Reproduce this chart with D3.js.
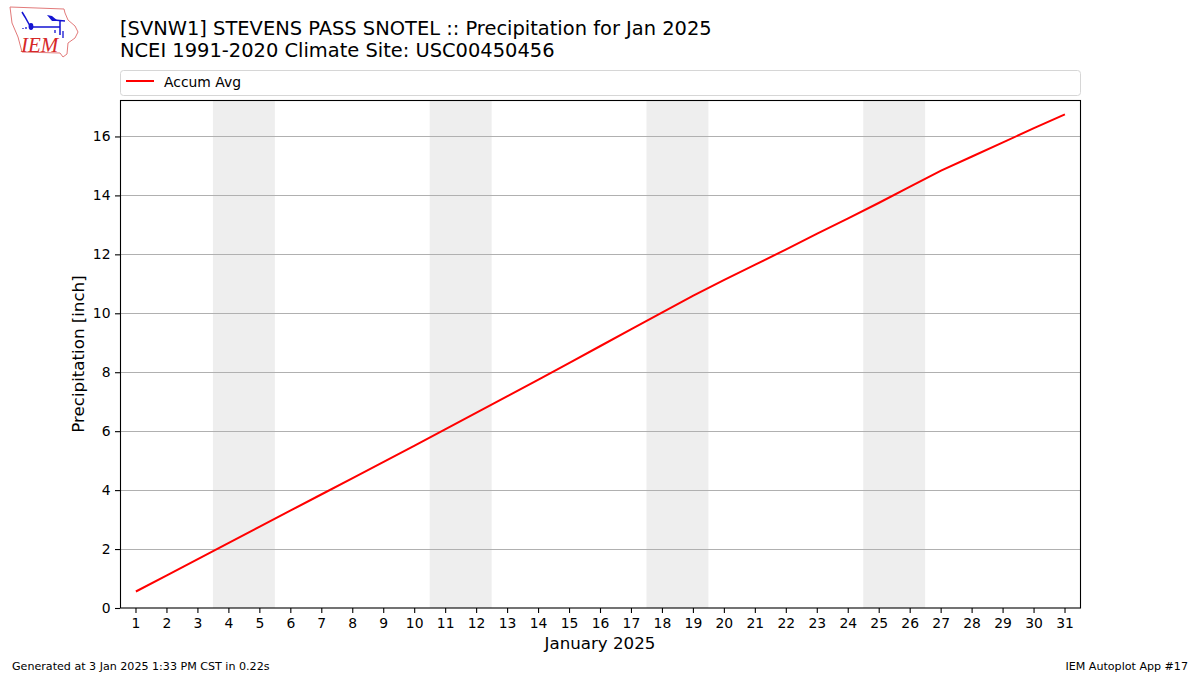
<!DOCTYPE html>
<html><head><meta charset="utf-8">
<script src="https://d3js.org/d3.v7.min.js"></script>
<style>html,body{margin:0;padding:0;background:#fff}svg{display:block}text{font-family:"DejaVu Sans",sans-serif;fill:#000}</style>
</head><body><svg id="c" width="1200" height="675"></svg>
<script>
const days=d3.range(1,32);
const accumAvg=[0.56,1.11,1.66,2.21,2.76,3.31,3.86,4.41,4.96,5.51,6.07,6.63,7.19,7.75,8.32,8.89,9.46,10.03,10.60,11.13,11.65,12.17,12.70,13.22,13.75,14.30,14.84,15.32,15.80,16.28,16.75];
const weekendStarts=[4,11,18,25];
const yTicks=[0,2,4,6,8,10,12,14,16];
const titleLines=["[SVNW1] STEVENS PASS SNOTEL :: Precipitation for Jan 2025","NCEI 1991-2020 Climate Site: USC00450456"];
const seriesName="Accum Avg", xLabel="January 2025", yLabel="Precipitation [inch]";
const footerLeft="Generated at 3 Jan 2025 1:33 PM CST in 0.22s", footerRight="IEM Autoplot App #17";

const svg=d3.select("#c");
const L=120,R=1080,T=100.5,B=608;
const x=d3.scaleLinear().domain([0.5,31.5]).range([L,R]);
const y=d3.scaleLinear().domain([0,17.22]).range([B,T]);

weekendStarts.forEach(d=>svg.append("rect").attr("x",x(d-.5)).attr("y",T).attr("width",x(d+1.5)-x(d-.5)).attr("height",B-T).attr("fill","#eeeeee"));
svg.append("g").selectAll("line").data(yTicks.filter(d=>d>0)).join("line")
 .attr("x1",L).attr("x2",R).attr("y1",d=>Math.round(y(d))+.5).attr("y2",d=>Math.round(y(d))+.5).attr("stroke","#b0b0b0").attr("stroke-width",1);
svg.append("path").datum(accumAvg).attr("fill","none").attr("stroke","#ff0000").attr("stroke-width",2)
 .attr("d",d3.line().x((d,i)=>x(days[i])+.4).y(d=>y(d)));
svg.append("rect").attr("x",L+.5).attr("y",T).attr("width",R-L).attr("height",B-T).attr("fill","none").attr("stroke","#000").attr("stroke-width",1.1);

const ax=d3.axisBottom(x).tickValues(days).tickFormat(d3.format("d")).tickSize(5).tickPadding(4.5);
const gx=svg.append("g").attr("transform",`translate(0,${B})`).call(ax);
const ay=d3.axisLeft(y).tickValues(yTicks).tickFormat(d3.format("d")).tickSize(5).tickPadding(4.5);
const gy=svg.append("g").attr("transform",`translate(${L},0)`).call(ay);
[gx,gy].forEach(g=>{g.select(".domain").remove();g.selectAll("text").style("font-family",'"DejaVu Sans"').style("font-size","13.9px");g.selectAll("line").attr("stroke","#000").attr("stroke-width",1.1);});
gx.selectAll("text").attr("y",10);

svg.append("text").attr("x",120).attr("y",35).attr("font-size",19.45).text(titleLines[0]);
svg.append("text").attr("x",120).attr("y",57).attr("font-size",19.45).text(titleLines[1]);
// legend
svg.append("rect").attr("x",120.5).attr("y",70.5).attr("width",960).attr("height",25).attr("rx",3).attr("fill","#fff").attr("stroke","#d6d6d6");
svg.append("line").attr("x1",126).attr("x2",154).attr("y1",81).attr("y2",81).attr("stroke","#ff0000").attr("stroke-width",2);
svg.append("text").attr("x",164).attr("y",86.5).attr("font-size",13.9).text(seriesName);
svg.append("text").attr("x",600).attr("y",649).attr("text-anchor","middle").attr("font-size",16.67).text(xLabel);
svg.append("text").attr("transform","translate(84,354) rotate(-90)").attr("text-anchor","middle").attr("font-size",16.67).text(yLabel);
svg.append("text").attr("x",12).attr("y",670).attr("font-size",11.1).text(footerLeft);
svg.append("text").attr("x",1188).attr("y",670).attr("text-anchor","end").attr("font-size",11.1).text(footerRight);

// logo
const lg=svg.append("g");
lg.append("path").attr("d","M10 7 L64 9 L65 13 L68 20 L75 26 L78 32 L75 38 L68 43 L67 54 L63 57 L60 53 L22 52 L18 37 L12 23 Z").attr("fill","#fff").attr("stroke","#e27a7a").attr("stroke-width",1);
lg.append("path").attr("d","M22 12 L25 17 L30 26 M30 27 L60 27 M60 20 L60 35 M54 20 L65 21").attr("fill","none").attr("stroke","#1414d2").attr("stroke-width",1.5);
lg.append("ellipse").attr("cx",31).attr("cy",26.5).attr("rx",2.4).attr("ry",3.4).attr("fill","#1414d2");
lg.append("path").attr("d","M47 15 L52 16 L58 21 L52 21 Z").attr("fill","#1414d2");
lg.append("path").attr("d","M55 30 L55 33 M63 31 L63 38 M23 28 L23 29 M26 27 L26 29").attr("fill","none").attr("stroke","#1414d2").attr("stroke-width",1.3);
lg.append("text").attr("x",21).attr("y",52).attr("font-size",21).attr("font-style","italic").style("font-family",'"Liberation Serif"').style("fill","#d62828").text("IEM");
</script></body></html>
